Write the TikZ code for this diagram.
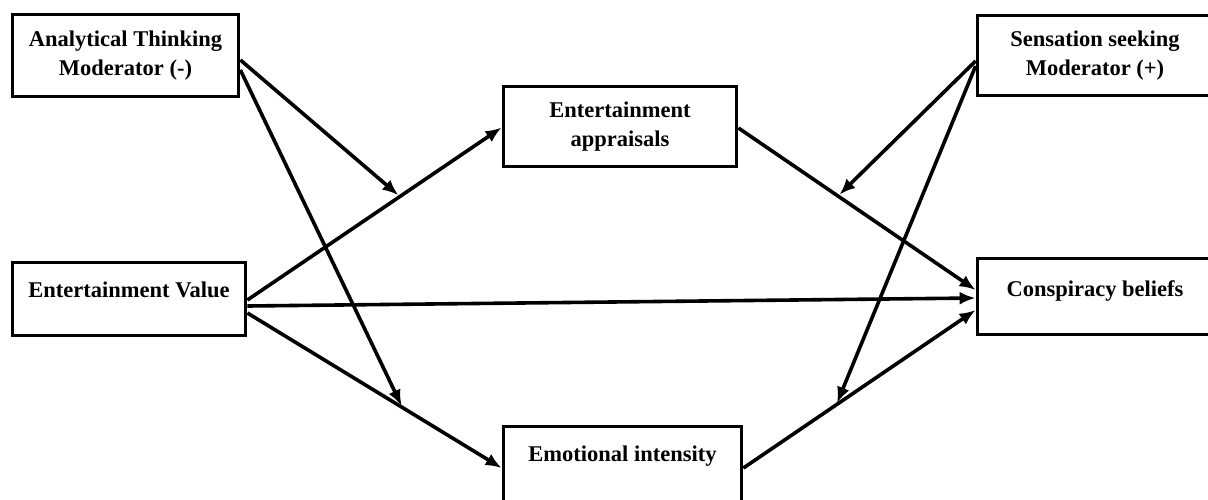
\documentclass[tikz,border=0pt]{standalone}
\usepackage{fontspec}
\setmainfont{Liberation Serif}
\usetikzlibrary{arrows.meta}

\begin{document}
\begin{tikzpicture}[x=1pt, y=-1pt,
    box/.style={draw, line width=3.8pt, inner sep=0pt, align=center,
        font=\fontsize{22.5}{29.5}\selectfont\bfseries},
    link/.style={-{Latex[length=16pt,width=13pt]}, line width=3.6pt},
    mod/.style={link, shorten >=2pt}]

    \useasboundingbox (0,0) rectangle (1208,499);

    %% Model

    % Boxes
    \node[box, minimum width=226pt, minimum height=82pt] (ana) at (125.5,55.5) {Analytical Thinking\\Moderator (-)};
    \node[box, minimum width=235pt, minimum height=80pt] (sen) at (1095,55.5) {Sensation seeking\\Moderator (+)};
    \node[box, minimum width=233pt, minimum height=80pt] (app) at (620,126.5) {Entertainment\\appraisals};
    \node[box, minimum width=233pt, text height=34.5pt, text depth=38.5pt] (val) at (129,299) {Entertainment Value};
    \node[box, minimum width=235pt, text height=37.5pt, text depth=38.5pt] (con) at (1095,296.5) {Conspiracy beliefs};
    \node[box, minimum width=238pt, text height=34.5pt, text depth=48.5pt] (emo) at (622.5,468) {Emotional intensity};

    % Paths
    \draw[link] ([yshift=-1pt]val.east) -- coordinate[pos=.6] (m1) ([yshift=-1pt]app.west);
    \draw[link] ([yshift=-7pt]val.east) -- ([yshift=-1.5pt]con.west);
    \draw[link] ([yshift=-14pt]val.east) -- coordinate[pos=.61] (m2) (emo.west);
    \draw[link] ([yshift=-1.5pt]app.east) -- coordinate[pos=.42] (m3) ([yshift=6.5pt]con.west);
    \draw[link] (emo.east) -- coordinate[pos=.40] (m4) ([yshift=-13.5pt]con.west);

    % Moderators
    \draw[mod] ([yshift=-4.5pt]ana.east) -- (m1);
    \draw[mod] ([yshift=-14.5pt]ana.east) -- (m2);
    \draw[mod] ([yshift=-5.5pt]sen.west) -- (m3);
    \draw[mod] ([yshift=-10.5pt]sen.west) -- (m4);

\end{tikzpicture}
\end{document}
